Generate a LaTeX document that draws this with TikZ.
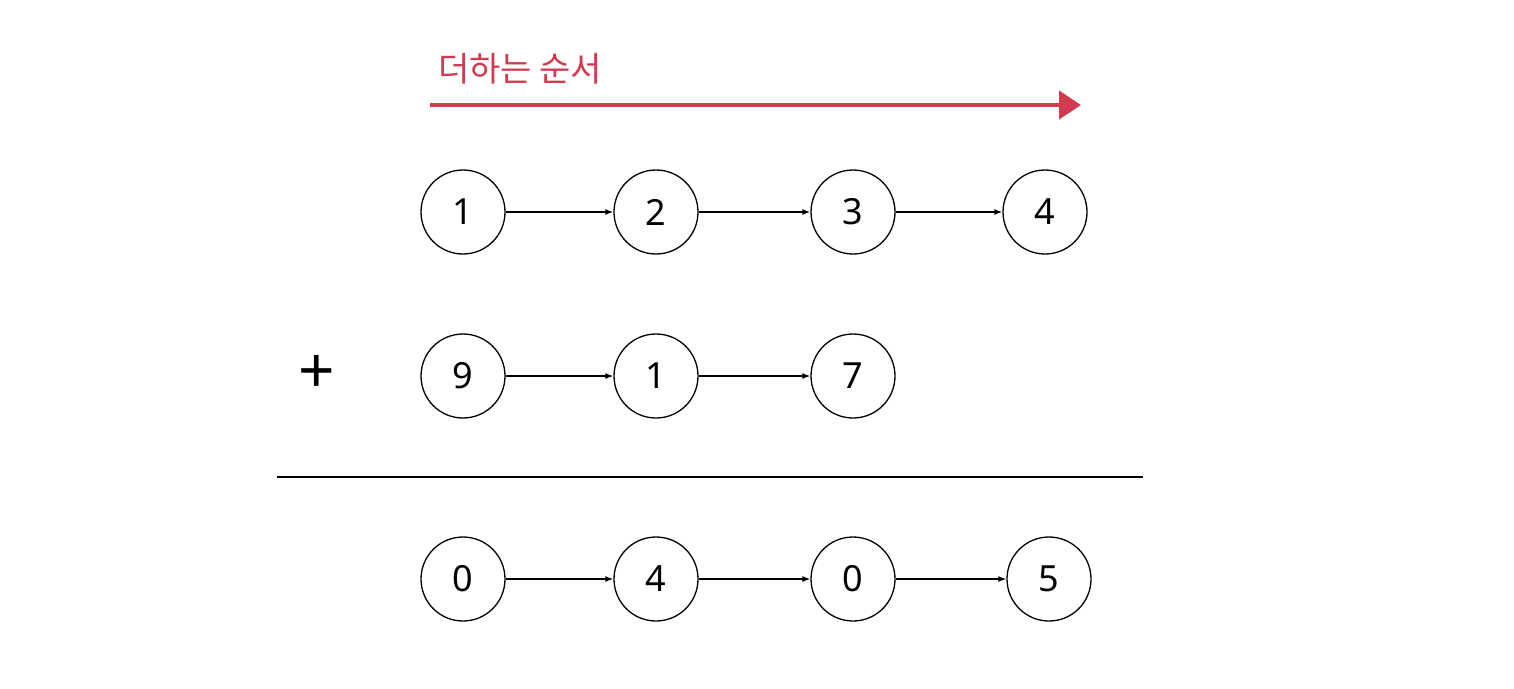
\documentclass[tikz,border=0pt]{standalone}
\usepackage{fontspec}
\setmainfont{Noto Sans}
\newfontfamily\kofont{Noto Sans CJK KR}
\usetikzlibrary{arrows.meta}
\definecolor{ordred}{HTML}{D23A50}
\tikzset{
  num/.style={circle,draw,line width=1.3pt,minimum size=84pt,inner sep=0pt,font=\fontsize{36}{40}\selectfont},
  link/.style={line width=1.3pt,-{Latex[length=8pt,width=6pt]}},
}
\begin{document}
\begin{tikzpicture}[x=1pt,y=-1pt]
\useasboundingbox (0,0) rectangle (1514,688);
% order arrow
\node[anchor=west,text=ordred,font=\kofont\fontsize{34}{40}\selectfont,inner sep=0pt] (lbl) at (438,69) {더하는 순서};
\coordinate (os) at (430,105);
\coordinate (oe) at (1081,105);
\draw[ordred,line width=4.5pt,-{Triangle[length=22pt,width=28pt]}] (os) -- (oe);
% row 1
\node[num] (a1) at (463,212) {1};
\node[num] (a2) at (656,212) {2};
\node[num] (a3) at (853,212) {3};
\node[num] (a4) at (1045,212) {4};
\draw[link] (a1) -- (a2);
\draw[link] (a2) -- (a3);
\draw[link] (a3) -- (a4);
% row 2
\node[font=\fontsize{64}{66}\selectfont,inner sep=0pt] (plus) at (317,374) {+};
\node[num] (b1) at (463,376) {9};
\node[num] (b2) at (656,376) {1};
\node[num] (b3) at (853,376) {7};
\draw[link] (b1) -- (b2);
\draw[link] (b2) -- (b3);
% rule
\coordinate (rl) at (277,477);
\coordinate (rr) at (1143,477);
\draw[line width=1.5pt] (rl) -- (rr);
% row 3
\node[num] (c1) at (463,579) {0};
\node[num] (c2) at (656,579) {4};
\node[num] (c3) at (853,579) {0};
\node[num] (c4) at (1049,579) {5};
\draw[link] (c1) -- (c2);
\draw[link] (c2) -- (c3);
\draw[link] (c3) -- (c4);
\end{tikzpicture}
\end{document}
